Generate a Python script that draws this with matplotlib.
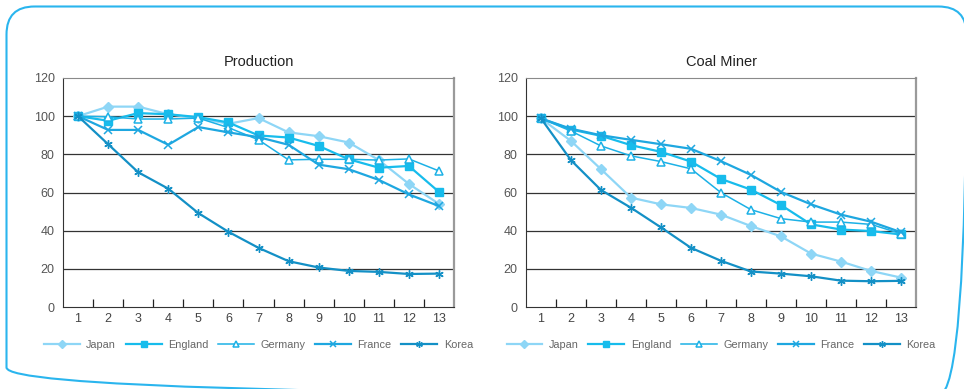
import numpy as np
import matplotlib.pyplot as plt
from matplotlib.patches import FancyBboxPatch

years = list(range(1, 14))
countries = ["Japan", "England", "Germany", "France", "Korea"]

prod_japan = [100, 105, 105, 101, 99, 96, 99, 91.5, 89.5, 86.2, 77, 64.5, 54]
prod_england = [100, 97.6, 101.6, 101, 99.5, 96.7, 89.9, 88.8, 84.4, 77.4, 73, 73.9, 60.3]
prod_germany = [100, 99.7, 98.5, 98.5, 99, 94, 87.6, 77.1, 77.4, 77.4, 77, 77.6, 71.3]
prod_france = [100, 92.8, 92.8, 85, 94.3, 91.5, 89, 85, 74.6, 72.2, 66.6, 59, 52.9]
prod_korea = [100, 85.3, 70.6, 62, 49.2, 39.4, 31, 24, 20.7, 18.9, 18.4, 17.3, 17.5]

miner_japan = [98.8, 87, 72.2, 57.3, 53.8, 51.9, 48.4, 42.4, 37, 28, 23.8, 18.9, 15.4]
miner_england = [98.8, 93, 89.7, 84.8, 81.3, 76.2, 67.1, 61.5, 53.4, 43.3, 40.6, 39.8, 38]
miner_germany = [98.8, 92.2, 84.4, 79.2, 76.2, 72.4, 59.9, 51, 46.3, 44.5, 44.5, 43.3, 38.4]
miner_france = [98.8, 93.4, 90, 87.6, 85.3, 82.9, 76.4, 69.2, 60.3, 53.8, 48.4, 44.7, 39.2]
miner_korea = [98.8, 76.9, 61.3, 52, 41.7, 31, 24.2, 18.6, 17.5, 16.1, 13.8, 13.5, 13.7]

styles = {
    "Japan": dict(color="#8ed6f6", marker="D", ms=5.2, mfc="#8ed6f6", lw=1.6),
    "England": dict(color="#17bcec", marker="s", ms=5.5, mfc="#17bcec", lw=1.6),
    "Germany": dict(color="#1cb1e6", marker="^", ms=6, mfc="white", lw=1.1, mew=1.1),
    "France": dict(color="#1ea7e0", marker="x", ms=5.5, mfc="#1ea7e0", lw=1.6, mew=1.1),
    "Korea": dict(color="#1390c6", marker=(6, 2, 0), ms=6, mfc="#1390c6", lw=1.6, mew=1.0),
}

plt.rcParams["font.family"] = ["Liberation Sans", "DejaVu Sans"]

fig = plt.figure(figsize=(9.64, 3.89), dpi=100)

# rounded outer frame, drawn in pixel units
bg = fig.add_axes([0, 0, 1, 1], zorder=-1)
bg.set_xlim(0, 964)
bg.set_ylim(389, 0)
bg.axis("off")
bg.add_patch(FancyBboxPatch((6.5, 6.5), 960, 389, boxstyle="round,pad=0,rounding_size=28",
                            fill=False, edgecolor="#2ab5ee", lw=1.5))


def draw(ax, title, series):
    for name, vals in zip(countries, series):
        ax.plot(years, vals, label=name, zorder=3, **styles[name])
    ax.set_xlim(0.5, 13.5)
    ax.set_ylim(0, 120)
    ax.set_yticks(range(0, 121, 20))
    ax.set_xticks(years)
    ax.set_xticks(np.arange(1.5, 13, 1), minor=True)
    ax.tick_params(axis="x", which="major", length=0, pad=4, labelsize=9, colors="#444444")
    ax.tick_params(axis="x", which="minor", direction="in", length=6, width=0.9, color="#222222")
    ax.tick_params(axis="y", length=0, pad=6, labelsize=9, colors="#555555")
    for y in range(20, 101, 20):
        ax.axhline(y, color="#333333", lw=0.9, zorder=1)
    ax.spines["left"].set_color("#333333")
    ax.spines["bottom"].set_color("#333333")
    ax.spines["top"].set_color("#8a8a8a")
    ax.spines["right"].set_color("#9a9a9a")
    ax.spines["right"].set_linewidth(1.6)
    ax.set_title(title, fontsize=10.5, color="#222222", pad=9)
    ax.legend(loc="upper center", bbox_to_anchor=(0.5, -0.1), ncol=5, frameon=False,
              fontsize=7.8, handlelength=3.3, columnspacing=0.9, handletextpad=0.6,
              markerscale=0.8, labelcolor="#666666")


ax1 = fig.add_axes([63 / 964, 1 - 307 / 389, 391 / 964, 229 / 389])
ax2 = fig.add_axes([526 / 964, 1 - 307 / 389, 390 / 964, 229 / 389])

draw(ax1, "Production", [prod_japan, prod_england, prod_germany, prod_france, prod_korea])
draw(ax2, "Coal Miner", [miner_japan, miner_england, miner_germany, miner_france, miner_korea])

fig.savefig("out.png", dpi=100)
